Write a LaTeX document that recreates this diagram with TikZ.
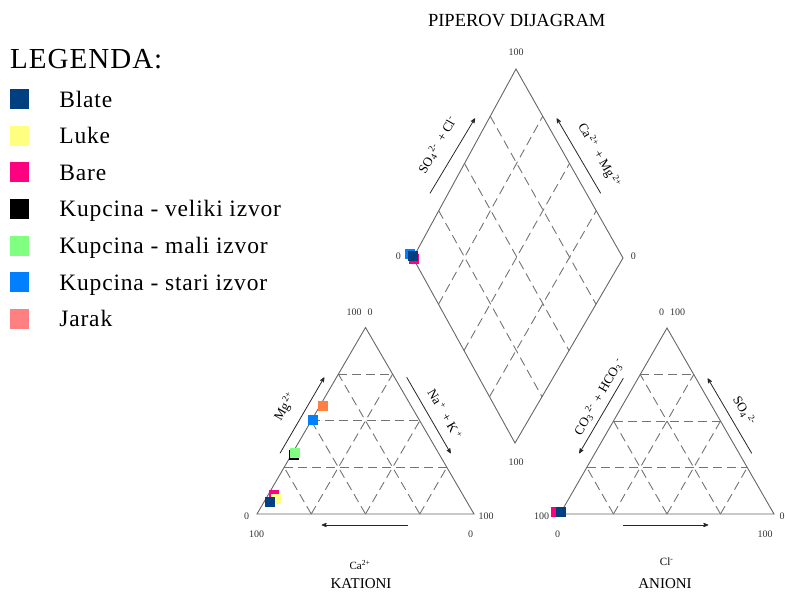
\documentclass[tikz,border=0pt]{standalone}
\usepackage{fontspec}
\setmainfont{Liberation Serif}
\newfontfamily\legendfont[LetterSpace=3.5]{Liberation Serif}
\usepackage{tikz}
\usetikzlibrary{arrows,calc,positioning}

\definecolor{blate}{RGB}{0,64,128}
\definecolor{luke}{RGB}{255,255,128}
\definecolor{bare}{RGB}{255,0,128}
\definecolor{mali}{RGB}{128,255,128}
\definecolor{stari}{RGB}{0,128,255}
\definecolor{jarak}{RGB}{255,128,128}
\definecolor{jarakpt}{RGB}{255,128,64}

\begin{document}
\begin{tikzpicture}[x=1pt,y=1pt,>=stealth',node distance=36.6pt,
  side/.style={draw=black!60,line width=0.9pt},
  grid/.style={draw=black!55,line width=0.9pt,dash pattern=on 9pt off 5pt},
  arr/.style={->,draw=black!85,line width=0.8pt},
  num/.style={font=\fontsize{10}{12}\selectfont,text=black!80,inner sep=0pt},
  ion/.style={font=\fontsize{13}{15}\selectfont,inner sep=0pt},
  sample/.style={minimum size=10pt,inner sep=0pt,fill=#1},
  key/.style={minimum width=19pt,minimum height=20pt,inner sep=0pt,fill=#1},
  entry/.style={inner sep=0pt,text height=15.5pt,text depth=0pt,font=\legendfont\fontsize{23.5}{26}\selectfont}]
    \useasboundingbox (0,0) rectangle (785,592);

    % legend
    \node[anchor=base west,inner sep=0pt,font=\legendfont\fontsize{29}{32}\selectfont] (head) at (10,523) {LEGENDA:};
    \node[key=blate] (k1) at (19.2,492.7) {};
    \node[key=luke] (k2) [below of=k1] {};
    \node[key=bare] (k3) [below of=k2] {};
    \node[key=black] (k4) [below of=k3] {};
    \node[key=mali] (k5) [below of=k4] {};
    \node[key=stari] (k6) [below of=k5] {};
    \node[key=jarak] (k7) [below of=k6] {};
    \node[entry,right=30.3pt of k1] (t1) {Blate};
    \node[entry,right=30.3pt of k2] (t2) {Luke};
    \node[entry,right=30.3pt of k3] (t3) {Bare};
    \node[entry,right=30.3pt of k4] (t4) {Kupcina - veliki izvor};
    \node[entry,right=30.3pt of k5] (t5) {Kupcina - mali izvor};
    \node[entry,right=30.3pt of k6] (t6) {Kupcina - stari izvor};
    \node[entry,right=30.3pt of k7] (t7) {Jarak};

    % vertices
    \coordinate (A) at (257,78);
    \coordinate (B) at (474,78);
    \coordinate (T) at (365.5,264.5);
    \coordinate (C) at (560,78);
    \coordinate (D) at (774,78);
    \coordinate (U) at (667,264);
    \coordinate (L) at (413,334);
    \coordinate (R) at (623,334);
    \coordinate (Bt) at (515,149);
    \coordinate (Tp) at (516,523);

    \foreach \i in {1,2,3} {
      \draw[grid] ($(A)!\i/4!(T)$) -- ($(B)!\i/4!(T)$);
      \draw[grid] ($(A)!\i/4!(B)$) -- ($(T)!\i/4!(B)$);
      \draw[grid] ($(A)!\i/4!(B)$) -- ($(A)!\i/4!(T)$);
      \draw[grid] ($(C)!\i/4!(U)$) -- ($(D)!\i/4!(U)$);
      \draw[grid] ($(C)!\i/4!(D)$) -- ($(U)!\i/4!(D)$);
      \draw[grid] ($(C)!\i/4!(D)$) -- ($(C)!\i/4!(U)$);
      \draw[grid] ($(L)!\i/4!(Tp)$) -- ($(Bt)!\i/4!(R)$);
      \draw[grid] ($(L)!\i/4!(Bt)$) -- ($(Tp)!\i/4!(R)$);
    }
    \draw[side] (A) -- (B) -- (T) -- cycle;
    \draw[side] (C) -- (D) -- (U) -- cycle;
    \draw[side] (L) -- (Tp) -- (R) -- (Bt) -- cycle;

    % title and scale numbers
    \node[inner sep=0pt,font=\fontsize{18.5}{20}\selectfont] (title) at (516.7,571.3) {PIPEROV DIJAGRAM};
    \node[num] (d1) at (516,539.7) {100};
    \node[num] (d2) at (398.3,336) {0};
    \node[num] (d3) at (633.3,336) {0};
    \node[num] (d4) at (516,129.7) {100};
    \node[num] (c1) at (359.7,279.3) {100\hspace{6pt}0};
    \node[num] (c2) at (246.7,76) {0};
    \node[num] (c3) at (256.7,57.7) {100};
    \node[num] (c4) at (486,76) {100};
    \node[num] (c5) at (470.7,57.7) {0};
    \node[num] (a1) at (672.2,279.3) {0\hspace{6pt}100};
    \node[num] (a2) at (541.7,76) {100};
    \node[num] (a3) at (557.7,57.7) {0};
    \node[num] (a4) at (782,76) {0};
    \node[num] (a5) at (765,57.7) {100};

    % axis arrows
    \coordinate (p1) at (430,398.7);   \coordinate (q1) at (475,473.7);
    \coordinate (p2) at (600.7,398.7); \coordinate (q2) at (556.7,473.7);
    \coordinate (p3) at (408.3,67);    \coordinate (q3) at (321.7,67);
    \coordinate (p4) at (280,138.7);   \coordinate (q4) at (324.3,214.7);
    \coordinate (p5) at (406.7,214.7); \coordinate (q5) at (450.7,138.7);
    \coordinate (p6) at (622.7,67);    \coordinate (q6) at (708.3,67);
    \coordinate (p7) at (623.3,213.7); \coordinate (q7) at (579.3,138.7);
    \coordinate (p8) at (751.7,138.7); \coordinate (q8) at (707.7,213.7);
    \foreach \k in {1,...,8}
      \draw[arr] (p\k) -- (q\k);

    \node[ion,rotate=60] (l1) at (437.5,447) {SO\textsubscript{4}\textsuperscript{\,2-}\, + Cl\textsuperscript{-}};
    \node[ion,rotate=-60] (l2) at (599,436.5) {Ca\textsuperscript{\,2+}\, + Mg\textsuperscript{\,2+}};
    \node[ion,rotate=60] (l3) at (285,185.3) {Mg\textsuperscript{\,2+}};
    \node[ion,rotate=-60] (l4) at (445,178) {Na\textsuperscript{\,+}\, + K\textsuperscript{\,+}};
    \node[ion,rotate=60] (l5) at (599,195.3) {CO\textsubscript{3}\textsuperscript{\,2-}\, + HCO\textsubscript{3}\textsuperscript{\,-}};
    \node[ion,rotate=-60] (l6) at (744,181) {SO\textsubscript{4}\textsuperscript{\,2-}};
    \node[inner sep=0pt,font=\fontsize{11}{13}\selectfont] (l7) at (360,27) {Ca\textsuperscript{2+}};
    \node[inner sep=0pt,font=\fontsize{11}{13}\selectfont] (l8) at (666.7,30.3) {Cl\textsuperscript{-}};
    \node[inner sep=0pt,font=\fontsize{15}{17}\selectfont] (kat) at (361,8.7) {KATIONI};
    \node[inner sep=0pt,font=\fontsize{15}{17}\selectfont] (ani) at (665,8.7) {ANIONI};

    % samples
    \node[sample=jarakpt] (s1) at (323.3,186.3) {};
    \node[sample=stari] (s2) at (312.7,172) {};
    \node[sample=black] (s3) at (294,136.5) {};
    \node[sample=mali] (s4) at (295,138.5) {};
    \node[sample=bare] (s5) at (274,96.5) {};
    \node[sample=luke] (s6) at (275.5,93) {};
    \node[sample=blate] (s7) at (270,90) {};
    \node[sample=bare] (s8) at (413.5,333) {};
    \node[sample=stari] (s9) at (410,337.7) {};
    \node[sample=blate] (s10) at (413.3,335.5) {};
    \node[sample=bare] (s11) at (556,79.7) {};
    \node[sample=blate] (s12) at (560.7,79.7) {};
\end{tikzpicture}
\end{document}
